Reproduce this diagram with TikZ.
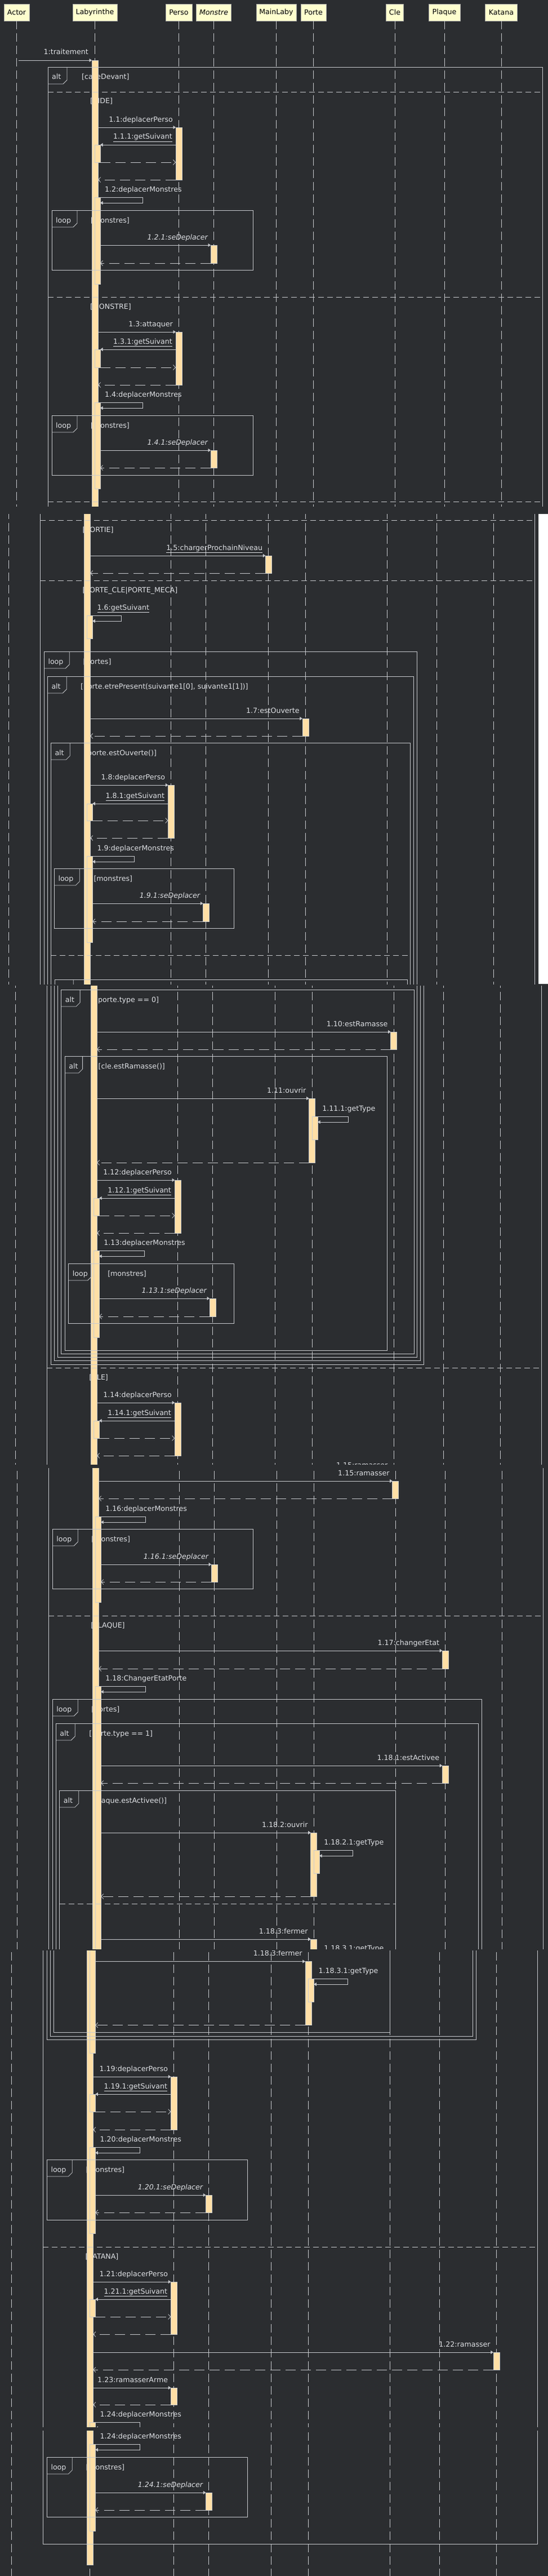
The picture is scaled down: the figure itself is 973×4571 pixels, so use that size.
\documentclass[tikz,border=0pt]{standalone}
\usepackage{fontspec}
\setmainfont{DejaVu Sans}
\usetikzlibrary{arrows.meta,calc}

\definecolor{bgclr}{HTML}{2B2D30}
\definecolor{lnclr}{HTML}{C9CBCF}
\definecolor{txtclr}{HTML}{DFE1E5}
\definecolor{barfill}{HTML}{FFDFA6}
\definecolor{barbrd}{HTML}{C9CBCF}
\definecolor{headfill}{HTML}{FEFECE}
\definecolor{headbrd}{HTML}{A8A8A8}

% texts are only set in the view where they show
\newif\ifshowtxt
\def\segLo{0}\def\segHi{5000}
\newcommand{\testy}[1]{\pgfmathparse{and(#1>\segLo-4,#1<\segHi+10)}%
  \ifdim\pgfmathresult pt>0.5pt\relax\showtxttrue\else\showtxtfalse\fi}
% activation bar: name, left x, top y, bottom y, width
\newcommand{\actbox}[5]{\expandafter\gdef\csname by@#1\endcsname{#3}%
  \node[actbar, minimum width=#5, minimum height={#4-#3}, anchor=north west] (#1) at (#2,#3) {};}
\newcommand{\bartop}[1]{\csname by@#1\endcsname}
% guard text: name, x, baseline y, text
\newcommand{\guard}[4]{\testy{#3}\ifshowtxt\node[msg, anchor=base west] (#1) at (#2,#3) {#4};\fi}
% combined fragment: tag name, x0, y0, x1, y1, tag right x, tag text
\newcommand{\seqframe}[7]{%
  \draw[frm] (#2,#3) rectangle (#4,#5);
  \draw[frm] (#2,#3+30) -- (#6-7,#3+30) -- (#6,#3+23) -- (#6,#3);
  \guard{#1}{#2+7}{#3+22}{#7}}
% messages
\newcommand{\callmsg}[4]{%
  \draw[call] (#2.east |- #3.north) -- (#3.north west);
  \testy{\bartop{#3}-10}\ifshowtxt
  \node[msg, anchor=base east] (#1) at ($(#3.north west)+(-5,-10)$) {#4};\fi}
\newcommand{\callback}[4]{%
  \draw[call] (#2.west |- #3.north) -- (#3.north east);
  \testy{\bartop{#3}-10}\ifshowtxt
  \node[msg, anchor=base east] (#1) at ($(#2.west |- #3.north)+(-6,-10)$) {#4};\fi}
\newcommand{\selfmsg}[3]{%
  \draw[call] (#2.north east) -- ++(#3,0) |- ($(#2.north east)+(0,10)$);}
\newcommand{\selflabel}[3]{\testy{\bartop{#2}-10}\ifshowtxt
  \node[msg, anchor=base west] (#1) at ($(#2.north east)+(8,-10)$) {#3};\fi}
\newcommand{\retmsg}[2]{\draw[ret] (#1.south west) -- (#2.east |- #1.south);}
\newcommand{\retfwd}[2]{\draw[ret] (#1.south east) -- (#2.west |- #1.south);}

\newcommand{\seqbody}{%
  \testy{22}%
  \node[headbox, minimum width=45] (hActor) at (29.5,22) {\ifshowtxt Actor\fi};
  \node[headbox, minimum width=79] (hLaby) at (168.5,22) {\ifshowtxt Labyrinthe\fi};
  \node[headbox, minimum width=47] (hPerso) at (317.5,22) {\ifshowtxt Perso\fi};
  \node[headbox, minimum width=62] (hMonstre) at (379.5,22) {\ifshowtxt\itshape Monstre\fi};
  \node[headbox, minimum width=71] (hMain) at (490.5,22) {\ifshowtxt MainLaby\fi};
  \node[headbox, minimum width=45] (hPorte) at (556.5,22) {\ifshowtxt Porte\fi};
  \node[headbox, minimum width=31] (hCle) at (701,22) {\ifshowtxt Cle\fi};
  \node[headbox, minimum width=56] (hPlaque) at (789,22) {\ifshowtxt Plaque\fi};
  \node[headbox, minimum width=57] (hKatana) at (890,22) {\ifshowtxt Katana\fi};
  \coordinate (bottom) at (0,4440);
  \foreach \h in {hActor,hLaby,hPerso,hMonstre,hMain,hPorte,hCle,hPlaque,hKatana}
    \draw[lifeline] (\h.south) -- (\h.south |- bottom);
  % guards
  \guard{gCase}{145}{141}{[caseDevant]}
  \guard{gVide}{160}{184}{[VIDE]}
  \guard{gMonstre}{160}{548}{[MONSTRE]}
  \guard{gSortie}{160}{911}{[SORTIE]}
  \guard{gPorte}{160}{1018}{[PORTE\_CLE|PORTE\_MECA]}
  \guard{gCle}{160}{2397}{[CLE]}
  \guard{gPlaque}{160}{2823}{[PLAQUE]}
  \guard{gKatana}{160}{3903.5}{[KATANA]}
  \guard{gLoop1}{161}{395}{[monstres]}
  \guard{gLoop2}{161}{759}{[monstres]}
  \guard{gPortes1}{161}{1145}{[portes]}
  \guard{gPresent}{156.6}{1189}{[porte.etrePresent(suivante1[0], suivante1[1])]}
  \guard{gOuverte}{164}{1307}{[porte.estOuverte()]}
  \guard{gLoop3}{180}{1530}{[monstres]}
  \guard{gType0}{171}{1727}{[porte.type == 0]}
  \guard{gRamasse}{176.4}{1845}{[cle.estRamasse()]}
  \guard{gLoop4}{193}{2213}{[monstres]}
  \guard{gLoop5}{161}{2670}{[monstres]}
  \guard{gPortes2}{161}{2972}{[portes]}
  \guard{gType1}{157}{3015}{[porte.type == 1]}
  \guard{gActivee}{162}{3134}{[plaque.estActivee()]}
  \guard{gLoop6}{161}{3749.5}{[monstres]}
  \guard{gLoop7}{161}{4239}{[monstres]}
  % activations
  \actbox{lab}{163}{107}{4408}{11}
  \actbox{pb1}{312}{226}{319}{11}
  \actbox{nb1}{168}{257}{288}{10}
  \actbox{nb2}{168}{350}{504}{10}
  \actbox{mb1}{374}{435}{467}{11}
  \actbox{pb2}{312}{589}{683}{11}
  \actbox{nb3}{168}{620}{652}{10}
  \actbox{nb4}{168}{714}{867}{10}
  \actbox{mb2}{374}{799}{830}{11}
  \actbox{mlb}{485}{953}{984}{11}
  \actbox{nb5}{168}{1059}{1100}{10}
  \actbox{ptb1}{550.5}{1242}{1273}{11}
  \actbox{pb3}{312}{1360}{1454}{11}
  \actbox{nb6}{168}{1393}{1423}{10}
  \actbox{nb7}{168}{1486}{1639}{10}
  \actbox{mb3}{374}{1570}{1602}{11}
  \actbox{cb1}{695.5}{1780}{1811}{11}
  \actbox{ptb2}{550.5}{1898}{2012}{11}
  \actbox{pnb1}{556}{1930}{1971}{10}
  \actbox{pb4}{312}{2043}{2137}{11}
  \actbox{nb8}{168}{2075}{2106}{10}
  \actbox{nb9}{168}{2168}{2322}{10}
  \actbox{mb4}{374}{2253}{2285}{11}
  \actbox{pb5}{312}{2438}{2532}{11}
  \actbox{nb10}{168}{2470}{2501}{10}
  \actbox{cb2}{695.5}{2563}{2594}{11}
  \actbox{nb11}{168}{2626}{2778}{10}
  \actbox{mb5}{374}{2711}{2742}{11}
  \actbox{plb1}{784}{2864}{2896}{11}
  \actbox{nb12}{168}{2927}{3538.5}{10}
  \actbox{plb2}{784}{3068}{3099}{11}
  \actbox{ptb3}{550.5}{3187}{3300}{11}
  \actbox{pnb2}{556}{3218}{3259}{10}
  \actbox{ptb4}{550.5}{3376}{3489}{11}
  \actbox{pnb3}{556}{3406.5}{3447.5}{10}
  \actbox{pb6}{312}{3580.5}{3674.5}{11}
  \actbox{nb13}{168}{3611.5}{3642.5}{10}
  \actbox{nb14}{168}{3705.5}{3858.5}{10}
  \actbox{mb6}{374}{3790.5}{3821.5}{11}
  \actbox{pb7}{312}{3944.5}{4037.5}{11}
  \actbox{nb15}{168}{3975.5}{4006.5}{10}
  \actbox{kb}{884.5}{4069.5}{4100.5}{11}
  \actbox{pb8}{312}{4132.5}{4162.5}{11}
  \actbox{nb16}{168}{4194}{4348}{10}
  \actbox{mb7}{374}{4280}{4311}{11}
  % fragments
  \seqframe{tAlt1}{85}{119}{963}{4371}{119}{alt}
  \seqframe{tLoop1}{92}{373}{449}{479}{137}{loop}
  \seqframe{tLoop2}{92}{737}{449}{843}{137}{loop}
  \seqframe{tLoop3}{92}{1123}{754}{2370}{137}{loop}
  \seqframe{tAlt2}{98}{1167}{748}{2363}{132}{alt}
  \seqframe{tAlt3}{104}{1285}{742}{2357}{138}{alt}
  \seqframe{tLoop4}{110}{1508}{429}{1614}{155}{loop}
  \seqframe{tAlt4}{110.6}{1705}{737}{2351}{144}{alt}
  \seqframe{tAlt5}{117}{1823}{689}{2345}{148.5}{alt}
  \seqframe{tLoop5}{123.6}{2191}{417.4}{2297}{164.6}{loop}
  \seqframe{tLoop6}{92}{2648}{448.5}{2754}{137}{loop}
  \seqframe{tLoop7}{92}{2950}{854}{3514.5}{137}{loop}
  \seqframe{tAlt6}{98}{2993}{848}{3508.5}{132}{alt}
  \seqframe{tAlt7}{104.5}{3112}{701}{3501.5}{138.6}{alt}
  \seqframe{tLoop8}{92}{3727.5}{448.5}{3834.5}{137}{loop}
  \seqframe{tLoop9}{92}{4217}{448.5}{4323}{137}{loop}
  \foreach \sy in {163,527,890,997,2376,2802,3882.5}
    \draw[sep] (85,\sy) -- (963,\sy);
  \draw[sep] (104,1662) -- (742,1662);
  \draw[sep] (104.5,3313) -- (701,3313);
  % messages
  \draw[call] ($(hActor.south |- lab.north)+(3,0)$) -- (lab.north west);
  \testy{97}\ifshowtxt\node[msg, anchor=base east] (m1) at ($(lab.north west)+(-6,-10)$) {1:traitement};\fi
  \callmsg{m1p1}{lab}{pb1}{1.1:deplacerPerso}
  \callback{m1p1p1}{pb1}{nb1}{\underline{1.1.1:getSuivant}}
  \retfwd{nb1}{pb1}
  \retmsg{pb1}{lab}
  \selfmsg{lab}{nb2}{75}\selflabel{m1p2}{nb2}{1.2:deplacerMonstres}
  \callmsg{m1p2p1}{nb2}{mb1}{\itshape 1.2.1:seDeplacer}
  \retmsg{mb1}{nb2}
  \callmsg{m1p3}{lab}{pb2}{1.3:attaquer}
  \callback{m1p3p1}{pb2}{nb3}{\underline{1.3.1:getSuivant}}
  \retfwd{nb3}{pb2}
  \retmsg{pb2}{lab}
  \selfmsg{lab}{nb4}{75}\selflabel{m1p4}{nb4}{1.4:deplacerMonstres}
  \callmsg{m1p4p1}{nb4}{mb2}{\itshape 1.4.1:seDeplacer}
  \retmsg{mb2}{nb4}
  \callmsg{m1p5}{lab}{mlb}{\underline{1.5:chargerProchainNiveau}}
  \retmsg{mlb}{lab}
  \selfmsg{lab}{nb5}{51}\selflabel{m1p6}{nb5}{\underline{1.6:getSuivant}}
  \callmsg{m1p7}{lab}{ptb1}{1.7:estOuverte}
  \retmsg{ptb1}{lab}
  \callmsg{m1p8}{lab}{pb3}{1.8:deplacerPerso}
  \callback{m1p8p1}{pb3}{nb6}{\underline{1.8.1:getSuivant}}
  \retfwd{nb6}{pb3}
  \retmsg{pb3}{lab}
  \selfmsg{lab}{nb7}{74}\selflabel{m1p9}{nb7}{1.9:deplacerMonstres}
  \callmsg{m1p9p1}{nb7}{mb3}{\itshape 1.9.1:seDeplacer}
  \retmsg{mb3}{nb7}
  \callmsg{m1p10}{lab}{cb1}{1.10:estRamasse}
  \retmsg{cb1}{lab}
  \callmsg{m1p11}{lab}{ptb2}{1.11:ouvrir}
  \selfmsg{ptb2}{pnb1}{54}\selflabel{m1p11p1}{pnb1}{1.11.1:getType}
  \retmsg{ptb2}{lab}
  \callmsg{m1p12}{lab}{pb4}{1.12:deplacerPerso}
  \callback{m1p12p1}{pb4}{nb8}{\underline{1.12.1:getSuivant}}
  \retfwd{nb8}{pb4}
  \retmsg{pb4}{lab}
  \selfmsg{lab}{nb9}{80}\selflabel{m1p13}{nb9}{1.13:deplacerMonstres}
  \callmsg{m1p13p1}{nb9}{mb4}{\itshape 1.13.1:seDeplacer}
  \retmsg{mb4}{nb9}
  \callmsg{m1p14}{lab}{pb5}{1.14:deplacerPerso}
  \callback{m1p14p1}{pb5}{nb10}{\underline{1.14.1:getSuivant}}
  \retfwd{nb10}{pb5}
  \retmsg{pb5}{lab}
  \callmsg{m1p15}{lab}{cb2}{1.15:ramasser}
  \retmsg{cb2}{lab}
  \selfmsg{lab}{nb11}{79}\selflabel{m1p16}{nb11}{1.16:deplacerMonstres}
  \callmsg{m1p16p1}{nb11}{mb5}{\itshape 1.16.1:seDeplacer}
  \retmsg{mb5}{nb11}
  \callmsg{m1p17}{lab}{plb1}{1.17:changerEtat}
  \retmsg{plb1}{lab}
  \selfmsg{lab}{nb12}{79}\selflabel{m1p18}{nb12}{1.18:ChangerEtatPorte}
  \callmsg{m1p18p1}{nb12}{plb2}{1.18.1:estActivee}
  \retmsg{plb2}{nb12}
  \callmsg{m1p18p2}{nb12}{ptb3}{1.18.2:ouvrir}
  \selfmsg{ptb3}{pnb2}{59.5}\selflabel{m1p18p2p1}{pnb2}{1.18.2.1:getType}
  \retmsg{ptb3}{nb12}
  \callmsg{m1p18p3}{nb12}{ptb4}{1.18.3:fermer}
  \selfmsg{ptb4}{pnb3}{60}\selflabel{m1p18p3p1}{pnb3}{1.18.3.1:getType}
  \retmsg{ptb4}{nb12}
  \callmsg{m1p19}{lab}{pb6}{1.19:deplacerPerso}
  \callback{m1p19p1}{pb6}{nb13}{\underline{1.19.1:getSuivant}}
  \retfwd{nb13}{pb6}
  \retmsg{pb6}{lab}
  \selfmsg{lab}{nb14}{79}\selflabel{m1p20}{nb14}{1.20:deplacerMonstres}
  \callmsg{m1p20p1}{nb14}{mb6}{\itshape 1.20.1:seDeplacer}
  \retmsg{mb6}{nb14}
  \callmsg{m1p21}{lab}{pb7}{1.21:deplacerPerso}
  \callback{m1p21p1}{pb7}{nb15}{\underline{1.21.1:getSuivant}}
  \retfwd{nb15}{pb7}
  \retmsg{pb7}{lab}
  \callmsg{m1p22}{lab}{kb}{1.22:ramasser}
  \retmsg{kb}{lab}
  \callmsg{m1p23}{lab}{pb8}{1.23:ramasserArme}
  \retmsg{pb8}{lab}
  \selfmsg{lab}{nb16}{79}\selflabel{m1p24}{nb16}{1.24:deplacerMonstres}
  \callmsg{m1p24p1}{nb16}{mb7}{\itshape 1.24.1:seDeplacer}
  \retmsg{mb7}{nb16}
}

% one scrolled view of the diagram: top, bottom, x scroll, y scroll
\newcommand{\seqview}[4]{%
  \begin{scope}
    \pgfmathsetmacro\segLo{#1-#4}\pgfmathsetmacro\segHi{#2-#4}%
    \clip (0,#1) rectangle (973,#2);
    \begin{scope}[shift={(#3,#4)}]
      \seqbody
    \end{scope}
  \end{scope}}

\begin{document}
\begin{tikzpicture}
[
x=1pt, y=-1pt,
font=\fontsize{12.6}{15}\selectfont,
lifeline/.style={draw=lnclr, line width=0.8pt, dash pattern=on 15pt off 7pt},
headbox/.style={draw=headbrd, fill=headfill, text=black, minimum height=30, inner sep=0pt},
actbar/.style={draw=barbrd, fill=barfill, line width=0.5pt, inner sep=0pt, outer sep=0pt},
msg/.style={text=txtclr, inner sep=0pt},
frm/.style={draw=lnclr, line width=0.8pt},
sep/.style={draw=lnclr, line width=0.8pt, dash pattern=on 10pt off 6pt},
call/.style={draw=lnclr, line width=0.8pt, -{Triangle[length=4.5pt,width=6pt]}},
ret/.style={draw=lnclr, line width=0.8pt, dash pattern=on 18pt off 9pt, -{Straight Barb[length=4pt,width=9pt]}}
]
\useasboundingbox (0,0) rectangle (973,4571);
\fill[bgclr] (0,0) rectangle (973,4571);
\seqview{0}{898}{0}{0}
\seqview{912}{1746}{-13.7}{33}
\seqview{1749}{2598}{-1.9}{51}
\seqview{2605}{3458}{1.2}{65}
\seqview{3461}{4306}{-8.7}{104.5}
\seqview{4313}{4571}{-8.7}{143}
\fill[white] (956,912) rectangle (973,1746);
\end{tikzpicture}
\end{document}
